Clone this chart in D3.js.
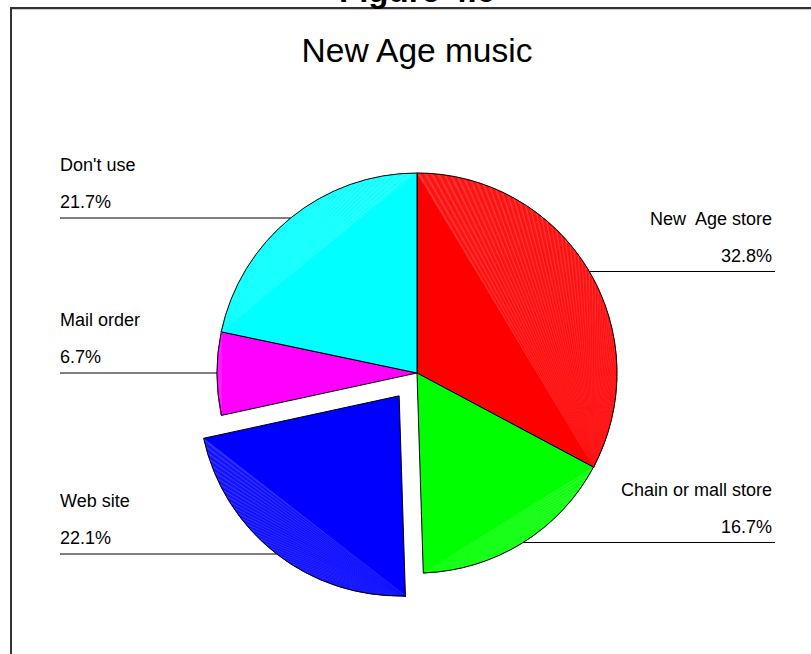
<!DOCTYPE html>
<html>
<head>
<meta charset="utf-8">
<script src="https://cdn.jsdelivr.net/npm/d3@7"></script>
<style>
  html, body { margin: 0; padding: 0; background: #fff; }
  svg { display: block; font-family: Arial, "Liberation Sans", sans-serif; }
</style>
</head>
<body>
<svg id="chart" width="811" height="654"></svg>
<script>
// Where New Age music buyers purchase (share of respondents, %)
const categories = ["New  Age store", "Chain or mall store", "Web site", "Mail order", "Don't use"];
const shares = [32.8, 16.7, 22.1, 6.7, 21.7];
const percentLabels = ["32.8%", "16.7%", "22.1%", "6.7%", "21.7%"];
const sliceColors = ["#ff0000", "#00ff00", "#0000ff", "#ff00ff", "#00ffff"];
const exploded = ["Web site"];

const W = 811, H = 654;
const cx = 417, cy = 373, R = 200, pull = 29;

const svg = d3.select("#chart");

// Frame
svg.append("line").attr("x1", 10).attr("x2", W).attr("y1", 8).attr("y2", 8)
  .attr("stroke", "#333").attr("stroke-width", 2);
svg.append("line").attr("x1", 10).attr("x2", W).attr("y1", 9.5).attr("y2", 9.5)
  .attr("stroke", "#ccc").attr("stroke-width", 1);
svg.append("line").attr("x1", 11).attr("x2", 11).attr("y1", 7).attr("y2", H)
  .attr("stroke", "#333").attr("stroke-width", 2);

// Figure caption (sits above the frame) and chart title
svg.append("text").attr("x", 417).attr("y", 2).attr("text-anchor", "middle")
  .attr("font-size", 33).attr("font-weight", "bold").text("Figure 4.6");
svg.append("text").attr("x", 417).attr("y", 62).attr("text-anchor", "middle")
  .attr("font-size", 33.5).text("New Age music");

const pie = d3.pie().sort(null).value(d => d.v);
const data = categories.map((c, i) => ({ c, v: shares[i], p: percentLabels[i], col: sliceColors[i] }));
const arcs = pie(data);
const arcGen = d3.arc().innerRadius(0).outerRadius(R);

function offsetOf(a) {
  if (!exploded.includes(a.data.c)) return [0, 0];
  const m = (a.startAngle + a.endAngle) / 2;
  return [Math.sin(m) * pull, -Math.cos(m) * pull];
}
const pt = (ang, r) => [Math.sin(ang) * r, -Math.cos(ang) * r];

const g = svg.append("g").attr("transform", `translate(${cx},${cy})`);

arcs.forEach(a => {
  const [ox, oy] = offsetOf(a);
  const sg = g.append("g").attr("transform", `translate(${ox},${oy})`);
  sg.append("path").attr("d", arcGen(a)).attr("fill", a.data.col);

  // fan shading between the chord and the outer arc, pivoting at the lower end
  const sP = pt(a.startAngle, R), eP = pt(a.endAngle, R);
  const pivotAng = sP[1] > eP[1] ? a.startAngle : a.endAngle;
  const pivot = pt(pivotAng, R);
  const n = Math.max(8, Math.round((a.endAngle - a.startAngle) * 60));
  const angs = d3.range(n + 1).map(i => a.startAngle + (a.endAngle - a.startAngle) * i / n);
  const light = d3.interpolateRgb(a.data.col, "#ffffff");
  for (let i = 0; i < n; i++) {
    const p1 = pt(angs[i], R), p2 = pt(angs[i + 1], R);
    sg.append("path")
      .attr("d", `M${pivot[0]},${pivot[1]}L${p1[0]},${p1[1]}L${p2[0]},${p2[1]}Z`)
      .attr("fill", light(i % 2 ? 0.08 : 0.2))
      .attr("stroke", light(i % 2 ? 0.05 : 0.15)).attr("stroke-width", 0.4);
  }
  sg.append("path").attr("d", arcGen(a)).attr("fill", "none")
    .attr("stroke", "#000").attr("stroke-width", 1);
});

// Labels with leader lines ending at the slice edge
const labelLayout = {
  "New  Age store":      { side: "right", y: 271.5 },
  "Chain or mall store": { side: "right", y: 542.5 },
  "Web site":            { side: "left",  y: 554 },
  "Mail order":          { side: "left",  y: 373 },
  "Don't use":           { side: "left",  y: 218 }
};
const fs = 18;
arcs.forEach(a => {
  const L = labelLayout[a.data.c];
  const [ox, oy] = offsetOf(a);
  const dy = L.y - (cy + oy);
  const dx = Math.sqrt(Math.max(0, R * R - dy * dy));
  const edgeX = L.side === "left" ? cx + ox - dx : cx + ox + dx;
  const outerX = L.side === "left" ? 60 : 775;
  svg.append("line").attr("x1", outerX).attr("x2", edgeX).attr("y1", L.y).attr("y2", L.y)
    .attr("stroke", "#000").attr("stroke-width", 1);
  const tx = L.side === "left" ? 60 : 772;
  const anchor = L.side === "left" ? "start" : "end";
  svg.append("text").attr("x", tx).attr("y", L.y - 47).attr("text-anchor", anchor)
    .attr("font-size", fs).attr("xml:space", "preserve").style("white-space", "pre").text(a.data.c);
  svg.append("text").attr("x", tx).attr("y", L.y - 10).attr("text-anchor", anchor)
    .attr("font-size", fs).text(a.data.p);
});
</script>
</body>
</html>
